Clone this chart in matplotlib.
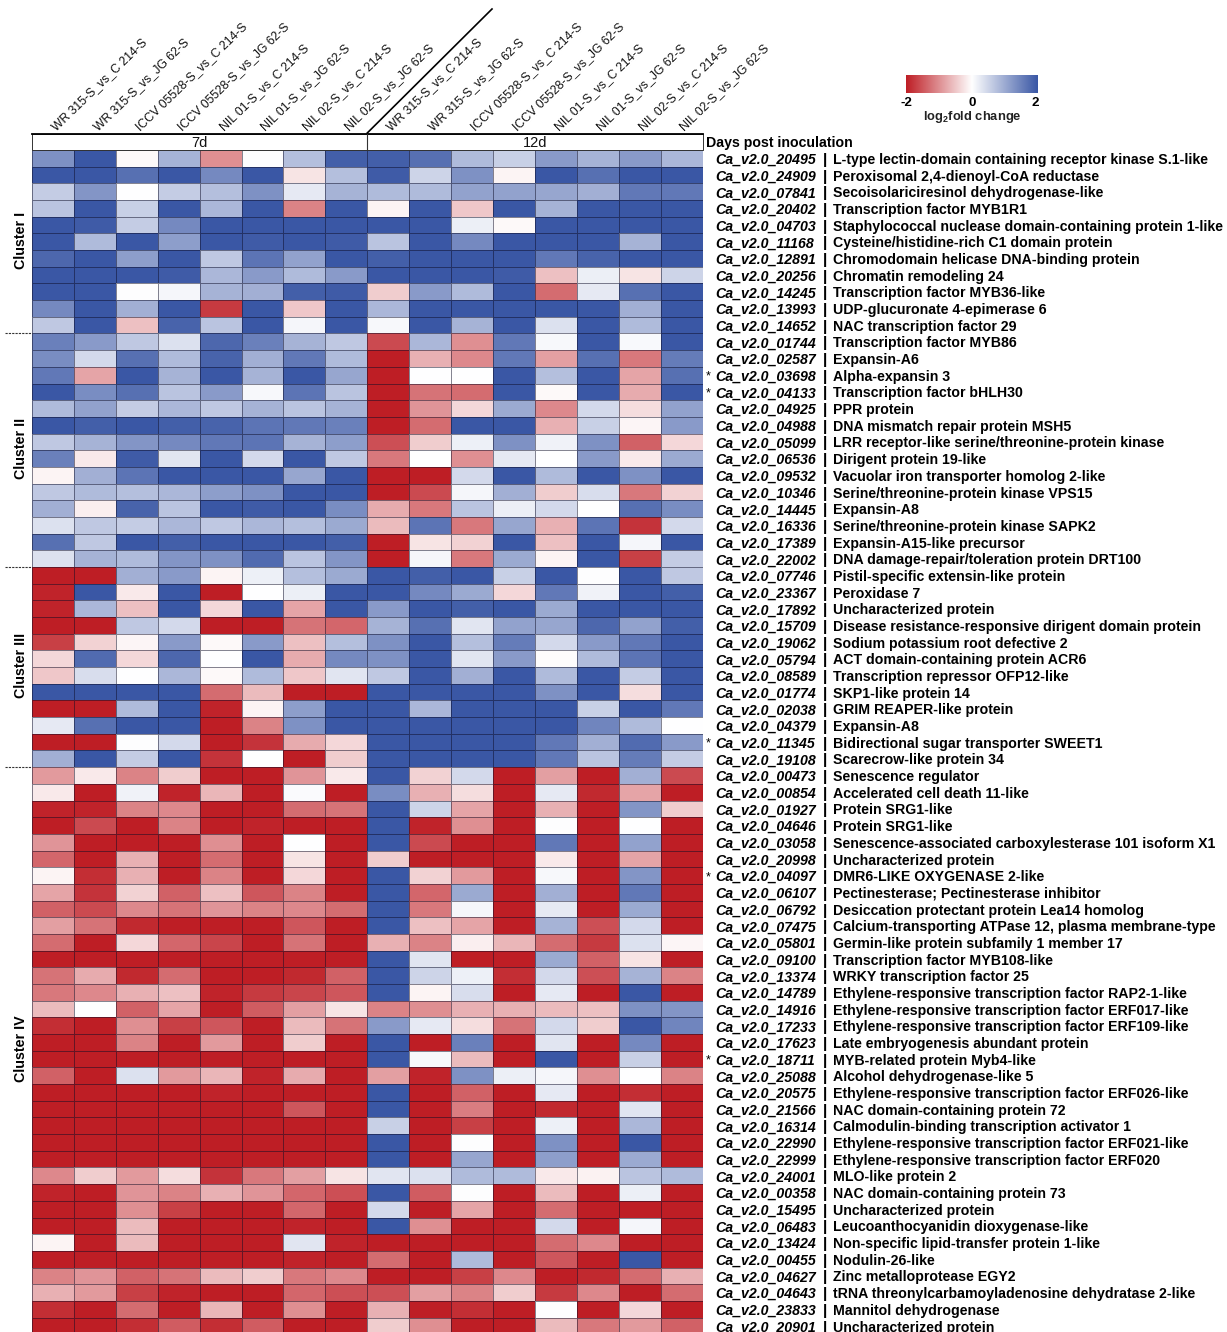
import numpy as np
import matplotlib
matplotlib.use("Agg")
import matplotlib.pyplot as plt
from matplotlib.colors import LinearSegmentedColormap
from matplotlib.transforms import blended_transform_factory as blend

plt.rcParams['font.family'] = ['Liberation Sans', 'DejaVu Sans']
plt.rcParams['mathtext.fontset'] = 'custom'
plt.rcParams['mathtext.bf'] = 'Liberation Sans:bold'

columns = ["WR 315-S_vs_C 214-S", "WR 315-S_vs_JG 62-S", "ICCV 05528-S_vs_C 214-S", "ICCV 05528-S_vs_JG 62-S",
           "NIL 01-S_vs_C 214-S", "NIL 01-S_vs_JG 62-S", "NIL 02-S_vs_C 214-S", "NIL 02-S_vs_JG 62-S"]
days = ["7d", "12d"]
clusters = ["Cluster I", "Cluster II", "Cluster III", "Cluster IV"]
cluster_sizes = [11, 14, 12, 34]
starred = ["03698", "04133", "11345", "04097", "18711"]

gene_ids = """20495 24909 07841 20402 04703 11168 12891 20256 14245 13993 14652
01744 02587 03698 04133 04925 04988 05099 06536 09532 10346 14445 16336 17389 22002
07746 23367 17892 15709 19062 05794 08589 01774 02038 04379 11345 19108
00473 00854 01927 04646 03058 20998 04097 06107 06792 07475 05801 09100 13374 14789 14916 17233 17623 18711 25088
20575 21566 16314 22990 22999 24001 00358 15495 06483 13424 00455 04627 04643 23833 20901""".split()

descriptions = [
"L-type lectin-domain containing receptor kinase S.1-like","Peroxisomal 2,4-dienoyl-CoA reductase",
"Secoisolariciresinol dehydrogenase-like","Transcription factor MYB1R1",
"Staphylococcal nuclease domain-containing protein 1-like","Cysteine/histidine-rich C1 domain protein",
"Chromodomain helicase DNA-binding protein","Chromatin remodeling 24","Transcription factor MYB36-like",
"UDP-glucuronate 4-epimerase 6","NAC transcription factor 29",
"Transcription factor MYB86","Expansin-A6","Alpha-expansin 3","Transcription factor bHLH30","PPR protein",
"DNA mismatch repair protein MSH5","LRR receptor-like serine/threonine-protein kinase","Dirigent protein 19-like",
"Vacuolar iron transporter homolog 2-like","Serine/threonine-protein kinase VPS15","Expansin-A8",
"Serine/threonine-protein kinase SAPK2","Expansin-A15-like precursor","DNA damage-repair/toleration protein DRT100",
"Pistil-specific extensin-like protein","Peroxidase 7","Uncharacterized protein",
"Disease resistance-responsive dirigent domain protein","Sodium potassium root defective 2",
"ACT domain-containing protein ACR6","Transcription repressor OFP12-like","SKP1-like protein 14",
"GRIM REAPER-like protein","Expansin-A8","Bidirectional sugar transporter SWEET1","Scarecrow-like protein 34",
"Senescence regulator","Accelerated cell death 11-like","Protein SRG1-like","Protein SRG1-like",
"Senescence-associated carboxylesterase 101 isoform X1","Uncharacterized protein","DMR6-LIKE OXYGENASE 2-like",
"Pectinesterase; Pectinesterase inhibitor","Desiccation protectant protein Lea14 homolog",
"Calcium-transporting ATPase 12, plasma membrane-type","Germin-like protein subfamily 1 member 17",
"Transcription factor MYB108-like","WRKY transcription factor 25","Ethylene-responsive transcription factor RAP2-1-like",
"Ethylene-responsive transcription factor ERF017-like","Ethylene-responsive transcription factor ERF109-like",
"Late embryogenesis abundant protein","MYB-related protein Myb4-like","Alcohol dehydrogenase-like 5",
"Ethylene-responsive transcription factor ERF026-like","NAC domain-containing protein 72",
"Calmodulin-binding transcription activator 1","Ethylene-responsive transcription factor ERF021-like",
"Ethylene-responsive transcription factor ERF020","MLO-like protein 2","NAC domain-containing protein 73",
"Uncharacterized protein","Leucoanthocyanidin dioxygenase-like","Non-specific lipid-transfer protein 1-like",
"Nodulin-26-like","Zinc metalloprotease EGY2","tRNA threonylcarbamoyladenosine dehydratase 2-like",
"Mannitol dehydrogenase","Uncharacterized protein"]

cluster_1 = [
[1.3,2,-.05,.9,-1,.03,.75,1.9, 1.9,1.7,.8,.55,1.2,.9,1.2,.85],
[2,2,1.7,2,1.4,2,-.25,.75, 1.95,.5,1.3,-.1,2,1.7,2,2],
[.6,1.25,0,.6,.75,1.3,.25,.9, .8,.8,1.1,1.1,1.05,.95,1.6,1.6],
[.7,2,.55,2,.85,2,-1.1,2, -.1,2,-.5,2,.9,2,2,2],
[2,1.95,.6,1.4,2,2,2,2, 2,2,.2,-.05,2,2,2,2],
[2,.8,2,1.15,2,1.95,2,1.95, .7,2,1.4,2,2,2,.9,2],
[1.8,2,1.15,2,.65,1.65,1.1,2, 1.9,2,2,2,1.6,1.85,2,2],
[2,2,2,1.95,.85,1.2,.8,1.2, 2,2,2,1.95,-.55,.2,-.25,.5],
[2,2,.02,.1,.9,.95,1.9,1.95, -.45,1.2,.8,2,-1.3,.25,1.7,2],
[1.4,2,.95,2,-1.75,2,-.5,2, .85,2,2,2,2,2,.95,2],
[.65,2,-.55,1.85,.7,2,.1,2, .08,2,.9,2,.35,2,.8,2]]
cluster_2 = [
[1.5,1.2,.65,.35,1.8,1.5,.9,.65, -1.6,.85,-1,1.6,.08,2,.07,2],
[1.35,.45,1.7,.8,1.85,.95,1.6,.8, -2,-.7,-1.05,1.6,-.85,1.7,-1.2,1.55],
[1.6,-.8,2,.9,2,.9,2,1.05, -2,0,0,2,.75,2,-.8,1.7],
[2,1.35,1.7,.7,1.2,.08,1.65,.7, -2,-1.25,-1.3,2,-.05,2,-.75,2],
[.8,1.1,.6,.85,.65,.9,.7,.9, -2,-.95,-.35,1,-1.05,.45,-.3,1.1],
[2,1.9,2,1.9,1.85,1.65,1.6,1.5, -2,-1.3,2,2,-.7,.55,-.08,1.2],
[.65,.9,1.25,1.4,1.6,1.65,.9,1.15, -1.55,-.45,.18,1.3,.15,1.3,-1.4,-.35],
[1.5,-.2,1.95,.3,2,.45,2,.65, -1.2,0,-1,.25,0,1.2,-.2,1],
[-.1,.95,1.65,2,2,2,1.05,2, -2,-2,.45,2,.8,2,1.3,2],
[.65,.8,.75,.85,1.15,1.3,2,2, -2,-1.6,.1,.95,-.45,.4,-1.2,-.4],
[.95,-.15,1.85,.7,2,1.95,2,1.35, -.75,-1.2,.7,.2,.45,0,1.7,1.35],
[.35,.65,.6,.85,.65,.85,.75,1, -.6,1.65,-1.2,1.05,-.7,1.65,-1.8,.45],
[1.7,.65,2,1.9,2,2,2,1.9, -2,-.25,-.4,2,-.55,2,.1,2],
[.35,.9,.8,1.25,1.3,1.75,.7,1.25, -2,.1,-1.2,1,-.1,2,-1.7,.6]]
cluster_3 = [
[-2,-2,.95,1.2,-.1,.18,.75,1, 2,1.9,2,.55,2,.02,2,.65],
[-1.95,2,-.2,2,-2,0,.2,2, 2,1.4,1,-.35,1.6,.15,2,1.9],
[-1.95,.85,-.55,2,-.35,2,-.8,2, 1.2,2,1.9,2,1,2,2,2],
[-2,-2,.65,.45,-2,-2,-1.25,-1.35, .9,1.7,.3,1.1,1.05,1.8,1.1,1.9],
[-1.7,-.4,-.08,1.2,-.05,1.2,-.55,.75, 1.3,2,.75,1.55,.45,1.2,1.6,2],
[-.35,1.75,-.35,1.8,0,2,-.75,1.4, 1.3,2,.3,1.2,-.02,.8,1.65,2],
[-.5,.4,0,.85,-.05,.8,-.5,.3, .65,2,.95,2,.8,2,.6,2],
[2,2,2,2,-1.3,-.6,-2,-2, 2,2,2,2,1.3,2,-.3,2],
[-2,-2,.8,2,-1.95,-.1,1.15,2, 2,.85,2,2,2,.55,2,1.6],
[.25,1.7,2,2,-2,-1.1,1.3,2, 2,2,2,2,2,1.45,.8,0],
[-2,-2,.03,.45,-2,-1.8,-.75,-.35, 2,2,2,2,1.6,.95,1.75,1.2],
[.95,2,.6,2,-1.8,0,-2,-.45, 2,2,2,2,1.6,.7,1.55,.6]]
cluster_4 = [
[-.9,-.2,-1.1,-.45,-2,-2,-.95,-.2, 2,-.4,.45,-2,-.85,-2,.95,-1.6],
[-.2,-2,.15,-1.95,-.65,-2,.05,-2, 1.35,-.7,-.3,-2,.25,-1.9,-.8,-2],
[-1.95,-1.95,-1.1,-1.05,-2,-2,-1.3,-1.25, 2,.5,-.8,-2,-.7,-2,1.25,-.45],
[-2,-1.6,-2,-1.1,-2,-1.95,-2,-2, 2,-1.95,-1,-2,.03,-2,0,-2],
[-.95,-2,-2,-2,-1,-2,0,-2, 2,-1.6,-2,-2,1.6,-2,1.1,-2],
[-1.35,-2,-.7,-2,-1.3,-2,-.25,-2, -.45,-2,-2,-2,-.2,-2,-.8,-2],
[-.1,-1.85,-.7,-2,-1.1,-2,-.35,-2, 2,-.4,-.9,-2,.08,-2,1.25,-2],
[-.8,-1.8,-.4,-1.4,-.55,-1.5,-1.1,-2, 2,-1.35,1,-2,.95,-2,1.6,-2],
[-1.4,-1.6,-1.05,-1.25,-.95,-1.1,-1.05,-1.3, 2,-1.2,.1,-2,.25,-2,1,-2],
[-.85,-1.25,-1.9,-2,-2,-2,-1.5,-2, 2,-.55,-.8,-2,.9,-1.55,.45,-2],
[-1.3,-2,-.35,-1.35,-1.65,-2,-1.25,-2, -.7,-1.1,-.15,-.65,-1.3,-1.75,.35,-.08],
[-2,-2,-2,-2,-2,-2,-2,-2, 2,.3,-2,-2,1,-1.4,-.25,-2],
[-1.25,-.75,-1.9,-1.3,-2,-2,-1.9,-1.4, 2,.5,.18,-1.85,.45,-1.55,.9,-1.1],
[-1.2,-1.05,-.7,-.55,-1.95,-1.75,-1.65,-1.5, 2,-.1,.4,-2,.25,-2,2,-2],
[-.6,0,-1.4,-.8,-2,-1.45,-.85,-.25, -1.1,-1,-.7,-.7,-.6,-.55,1.3,1.25],
[-1.85,-2,-1,-1.7,-1.5,-2,-.6,-1.25, 1.2,.25,-.3,-1.25,.45,-.45,2,1.45],
[-2,-2,-1.1,-2,-.9,-2,-.45,-2, 2,-2,1.5,-2,.3,-2,1.4,-2],
[-2,-2,-2,-2,-2,-2,-2,-2, 2,.08,-.6,-2,2,-2,.55,-2],
[-1.4,-2,.35,-.9,-.65,-1.95,-.75,-2, -.85,-1.95,1.3,.2,.1,-1,0,-1.1],
[-2,-2,-2,-2,-1.95,-2,-2,-2, 2,-2,-1.4,-2,.25,-2,-1.85,-2],
[-2,-2,-2,-2,-2,-2,-1.5,-2, 2,-2,-1.15,-2,-1.9,-2,.3,-2],
[-2,-2,-2,-2,-2,-2,-2,-2, .55,-2,-1.7,-2,.18,-2,.85,-2],
[-2,-2,-2,-2,-2,-2,-2,-2, 2,-2,.02,-2,1.3,-2,2,-2],
[-2,-2,-2,-2,-2,-2,-2,-2, 2,-2,1.05,-2,1.15,-2,1,-2],
[-1.05,-.45,-.9,-.3,-1.8,-1.2,-.85,-.25, .3,.35,.8,.8,-.2,-.12,.7,.8],
[-1.95,-2,-.95,-1.1,-.7,-.95,-1.35,-1.55, 2,-1.45,.02,-2,-.6,-2,.2,-2],
[-2,-2,-1,-1.7,-2,-2,-1.35,-2, .45,-2,-.8,-2,-1.3,-2,-2,-2],
[-2,-2,-.6,-2,-2,-2,-1.95,-2, 2,-1,-2,-2,.45,-2,.1,-2],
[-.1,-2,-.6,-2,-2,-2,.3,-1.95, -2,-2,-2,-2,-1.3,-1.05,-2,-2],
[-2,-2,-2,-2,-2,-2,-1.95,-2, -1.3,-2,.8,-2,-1.5,-2,2,-2],
[-1.1,-.95,-1.4,-1.25,-.6,-.45,-1.2,-1.05, -2,-2,-1.7,-1.05,-2,-1.9,-1.3,-.7],
[-.7,-.9,-1.7,-1.95,-2,-2,-1.35,-1.55, -1.55,-.85,-1.1,-.45,-1.75,-1.05,-2,-1.3],
[-1.85,-2,-1.3,-2,-.65,-2,-1,-2, -.7,-2,-1.85,-2,0,-2,-.35,-2],
[-2,-2,-1.85,-1.45,-1.85,-1.45,-2,-2, -.45,-1,-2,-2,-.6,-1.2,-.9,-1.4]]

values = np.array(cluster_1 + cluster_2 + cluster_3 + cluster_4)
cmap = LinearSegmentedColormap.from_list("rwb", ["#BE1E25", "#FFFFFF", "#3A57A5"])

W, H = 1227, 1332
fig = plt.figure(figsize=(W / 100, H / 100), dpi=100)

def box(x0, y0, x1, y1):
    return [x0 / W, 1 - y1 / H, (x1 - x0) / W, (y1 - y0) / H]

# page axes in image pixels, for annotations
page = fig.add_axes([0, 0, 1, 1], zorder=3)
page.set_xlim(0, W); page.set_ylim(H, 0); page.axis("off")

LEFT, RIGHT, TOP, ROW = 32, 702.5, 150, 16.68
ax = fig.add_axes(box(LEFT, TOP, RIGHT, H))
ax.pcolormesh(values, cmap=cmap, vmin=-2, vmax=2, edgecolors=(0.05, 0.05, 0.15, 0.5), linewidth=0.6)
ax.set_xlim(0, 16)
ax.set_ylim((H - TOP) / ROW, 0)
ax.axis("off")

row_tf = blend(page.transData, ax.transData)
col_w = (RIGHT - LEFT) / 16
MID = LEFT + 8 * col_w
FS = 10.13
DY = 1.6 / ROW

# header band
page.plot([LEFT, RIGHT, RIGHT, LEFT, LEFT], [133.5, 133.5, 150, 150, 133.5], color="#333333", lw=0.7)
page.plot([LEFT, RIGHT], [133.5, 133.5], color="black", lw=1.3)
page.plot([MID, MID], [133.5, 150], color="#333333", lw=0.8)
page.plot([MID, 492], [133, 9], color="black", lw=1.2)
for j, d in enumerate(days):
    page.text(LEFT + (j * 8 + 4) * col_w, 143, d, ha="center", va="center", fontsize=10.5, color="#111111")
page.text(706, 143.5, "Days post inoculation", fontsize=FS, fontweight="bold", va="center", ha="left")

# rotated column labels
for j in range(16):
    page.text(LEFT + (j + 0.5) * col_w + 5, 133.5, columns[j % 8], rotation=44, rotation_mode="anchor",
              ha="left", va="bottom", fontsize=8.8, color="#111111")

# row labels
for i, (g, d) in enumerate(zip(gene_ids, descriptions)):
    y = i + 0.5 + DY
    page.text(715.2, y, f"Ca_v2.0_{g}", transform=row_tf, fontsize=FS, fontweight="bold", style="italic", va="center")
    page.text(825.5, y, "|", transform=row_tf, fontsize=11, fontweight="bold", va="center", ha="center")
    page.text(833, y, d, transform=row_tf, fontsize=FS, fontweight="bold", va="center")
    if g in starred:
        page.text(708, y, "*", transform=row_tf, fontsize=9, va="center", ha="center")

# cluster labels and separators
start = 0
for name, n in zip(clusters, cluster_sizes):
    page.text(21, start + n / 2 - 0.1, name, transform=row_tf, rotation=90, fontsize=10.3,
              fontweight="bold", ha="center", va="center")
    if start:
        page.plot([5, LEFT], [start, start], transform=row_tf, color="#333333", lw=0.8, ls=(0, (2, 1)))
    start += n

# colour bar
cax = fig.add_axes(box(906, 75, 1038, 93))
cax.imshow(np.linspace(-2, 2, 256)[None, :], cmap=cmap, vmin=-2, vmax=2, aspect="auto", extent=[-2, 2, 0, 1])
cax.axis("off")
for t, x in zip([-2, 0, 2], [906, 972, 1035.5]):
    page.text(x, 102.5, str(t), fontsize=9.6, fontweight="bold", ha="center", va="center")
page.text(972, 117, r"log$_{\mathbf{2}}$fold change", fontsize=9.3, fontweight="bold", ha="center", va="center",
          color="#222222")

fig.savefig("out.png", dpi=100)
